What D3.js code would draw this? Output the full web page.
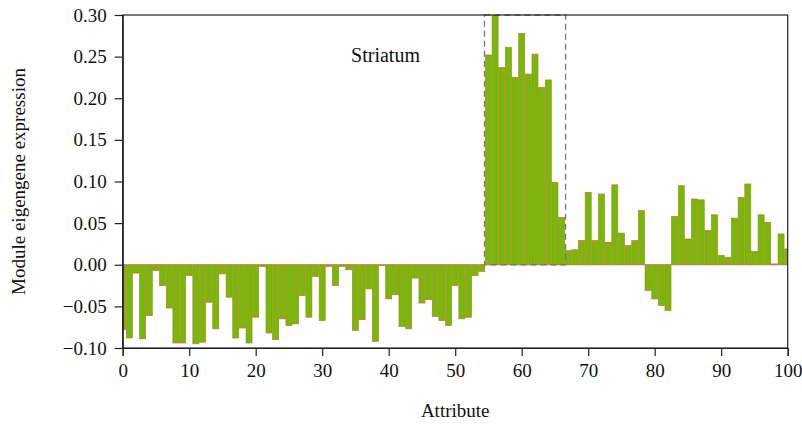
<!DOCTYPE html>
<html>
<head>
<meta charset="utf-8">
<script src="https://cdn.jsdelivr.net/npm/d3@7"></script>
<style>
  html, body { margin: 0; padding: 0; background: #fff; }
  svg { display: block; }
  text { font-family: "Liberation Serif", "Times New Roman", serif; fill: #111; }
</style>
</head>
<body>
<svg id="chart" width="802" height="429"></svg>
<script>
// Module eigengene expression for each attribute (0..100)
const expression = [
  -0.078, -0.088, -0.010, -0.089, -0.061, -0.007, -0.025, -0.052, -0.094, -0.094,
  -0.013, -0.095, -0.093, -0.045, -0.077, -0.011, -0.039, -0.088, -0.076, -0.094,
  -0.063, -0.002, -0.082, -0.090, -0.065, -0.073, -0.071, -0.037, -0.063, -0.014,
  -0.067, -0.002, -0.025, -0.002, -0.006, -0.079, -0.066, -0.029, -0.092, -0.001,
  -0.041, -0.036, -0.074, -0.077, -0.016, -0.046, -0.042, -0.062, -0.067, -0.073,
  -0.025, -0.065, -0.063, -0.013, -0.008,  0.252,  0.300,  0.237,  0.261,  0.225,
   0.278,  0.229,  0.253,  0.213,  0.222,  0.099,  0.057,  0.017,  0.018,  0.029,
   0.087,  0.029,  0.085,  0.027,  0.096,  0.038,  0.023,  0.029,  0.065, -0.031,
  -0.041, -0.049, -0.055,  0.058,  0.095,  0.031,  0.079,  0.078,  0.041,  0.060,
   0.011,  0.009,  0.056,  0.081,  0.097,  0.016,  0.060,  0.051,  0.001,  0.037,
   0.019
];
const attributes = expression.map((_, i) => i);

const xTicks = [0, 10, 20, 30, 40, 50, 60, 70, 80, 90, 100];
const yTicks = [-0.10, -0.05, 0.00, 0.05, 0.10, 0.15, 0.20, 0.25, 0.30];

// Highlighted region of striatum-related attributes
const highlight = { label: "Striatum", from: 54.4, to: 66.6, low: 0, high: 0.30 };

const svg = d3.select("#chart");
const margin = { left: 122.7, right: 14.3, top: 15, bottom: 81 };
const W = 802, H = 429;
const fontSize = "19px";

const x = d3.scaleLinear().domain([0, 100]).range([margin.left, W - margin.right]);
const y = d3.scaleLinear().domain([-0.10, 0.30]).range([H - margin.bottom, margin.top]);

const barW = (x(1) - x(0)) * 0.9;

svg.append("defs").append("clipPath").attr("id", "plot-clip")
  .append("rect")
  .attr("x", x(0)).attr("y", y(0.30))
  .attr("width", x(100) - x(0)).attr("height", y(-0.10) - y(0.30));

// zero reference line
svg.append("line")
  .attr("x1", x(0)).attr("x2", x(100))
  .attr("y1", y(0)).attr("y2", y(0))
  .attr("stroke", "#b8b8b8").attr("stroke-width", 1);

// bars
svg.append("g").attr("clip-path", "url(#plot-clip)")
  .selectAll("rect")
  .data(attributes)
  .join("rect")
  .attr("x", d => x(d) - barW / 2)
  .attr("width", barW)
  .attr("y", d => y(Math.max(0, expression[d])))
  .attr("height", d => Math.abs(y(expression[d]) - y(0)))
  .attr("fill", "#6cbf04")
  .attr("stroke", "#d8692e")
  .attr("stroke-width", 0.7);

// highlight box
svg.append("rect")
  .attr("x", x(highlight.from))
  .attr("y", y(highlight.high))
  .attr("width", x(highlight.to) - x(highlight.from))
  .attr("height", y(highlight.low) - y(highlight.high))
  .attr("fill", "none")
  .attr("stroke", "#777")
  .attr("stroke-width", 1.3)
  .attr("stroke-dasharray", "6,4");

svg.append("text")
  .attr("x", 385.5).attr("y", 62)
  .attr("text-anchor", "middle")
  .style("font-size", "20px")
  .text(highlight.label);

// frame
svg.append("rect")
  .attr("x", x(0)).attr("y", y(0.30))
  .attr("width", x(100) - x(0)).attr("height", y(-0.10) - y(0.30))
  .attr("fill", "none").attr("stroke", "#222").attr("stroke-width", 1.2);

// axes
const fmt = d3.format(".2f");
const yAxis = svg.append("g")
  .attr("transform", `translate(${x(0)},0)`)
  .call(d3.axisLeft(y).tickValues(yTicks).tickFormat(fmt).tickSize(8).tickPadding(8));
const xAxis = svg.append("g")
  .attr("transform", `translate(0,${y(-0.10)})`)
  .call(d3.axisBottom(x).tickValues(xTicks).tickFormat(d3.format("d")).tickSize(8).tickPadding(8));

[yAxis, xAxis].forEach(g => {
  g.select(".domain").attr("stroke", "#222").attr("stroke-width", 1.2);
  g.selectAll(".tick line").attr("stroke", "#222").attr("stroke-width", 1.2);
  g.selectAll(".tick text")
    .style("font-family", "'Liberation Serif', 'Times New Roman', serif")
    .style("font-size", fontSize).attr("fill", "#111");
});

// axis titles
svg.append("text")
  .attr("x", (x(0) + x(100)) / 2).attr("y", 417)
  .attr("text-anchor", "middle")
  .style("font-size", fontSize)
  .text("Attribute");

svg.append("text")
  .attr("transform", `translate(25,${(y(0.30) + y(-0.10)) / 2}) rotate(-90)`)
  .attr("text-anchor", "middle")
  .style("font-size", fontSize)
  .text("Module eigengene expression");
</script>
</body>
</html>
